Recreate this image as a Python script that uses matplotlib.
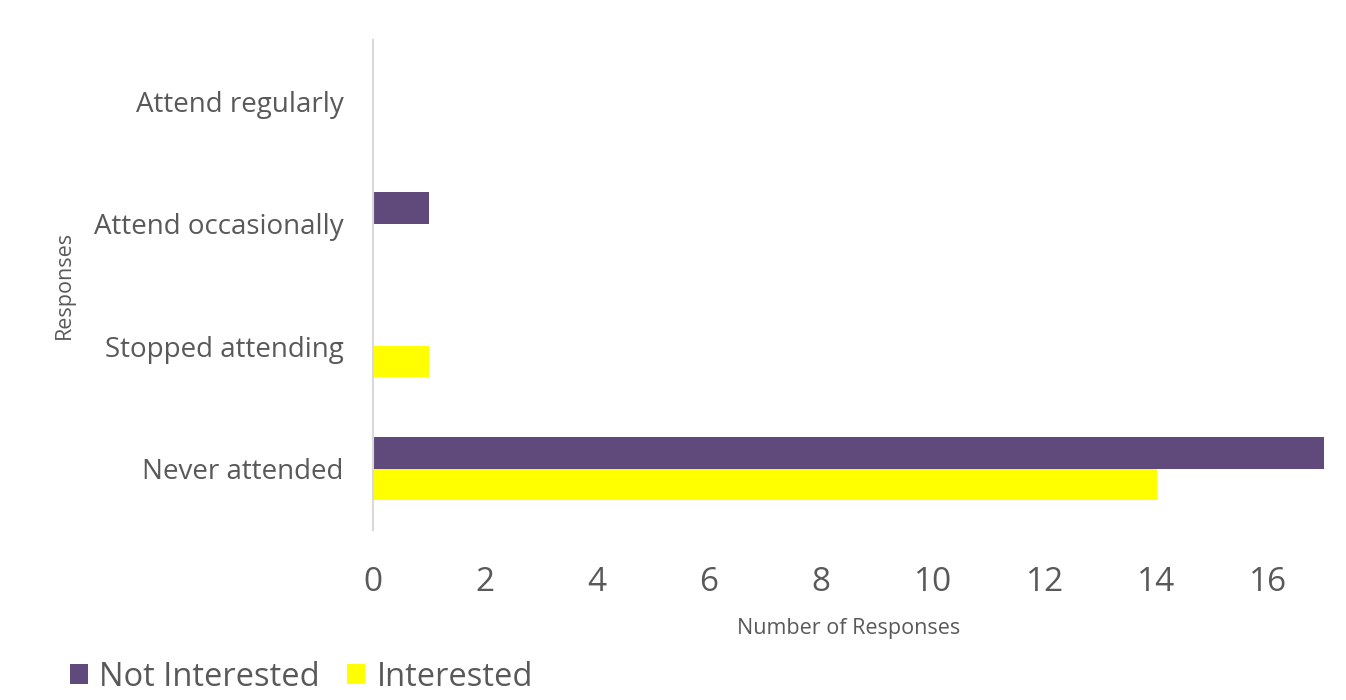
import matplotlib.pyplot as plt
import numpy as np

plt.rcParams['font.family'] = ['Open Sans', 'DejaVu Sans']

categories = ['Never attended', 'Stopped attending', 'Attend occasionally', 'Attend regularly']
not_interested = [17, 0, 1, 0]
interested = [14, 1, 0, 0]

purple = '#604A7B'
yellow = '#FFFF00'
grey_text = '#595959'

fig = plt.figure(figsize=(13.46, 7.0), dpi=100)
ax = fig.add_axes([0.2771, 0.243, 0.7069, 0.700])

y = np.arange(len(categories))
h = 0.255
ax.barh(y + h / 2, not_interested, height=h, color=purple, label='Not Interested')
ax.barh(y - h / 2, interested, height=h, color=yellow, label='Interested')

ax.set_xlim(0, 17)
ax.set_ylim(-0.5, len(categories) - 0.5)
ax.set_xticks(range(0, 17, 2))
ax.set_yticks(y)
ax.set_yticklabels(categories)

for s in ['top', 'right', 'bottom']:
    ax.spines[s].set_visible(False)
ax.spines['left'].set_color('#D9D9D9')
ax.spines['left'].set_linewidth(1.5)

ax.tick_params(axis='x', length=0, pad=26, labelsize=24, labelcolor=grey_text)
ax.tick_params(axis='y', length=0, pad=21, labelsize=20, labelcolor=grey_text)

ax.set_xlabel('Number of Responses', fontsize=15.5, color=grey_text, labelpad=14)
ax.set_ylabel('Responses', fontsize=15.5, color=grey_text)
ax.yaxis.set_label_coords(-0.313, 0.5)

# legend sits right at the bottom edge
fig.legend(loc='lower left', bbox_to_anchor=(0.030, -0.033), ncol=2, frameon=False,
           fontsize=23.5, labelcolor=grey_text, handlelength=0.55, handleheight=0.55,
           handletextpad=0.35, columnspacing=0.85)

fig.savefig('out.png', dpi=100)
